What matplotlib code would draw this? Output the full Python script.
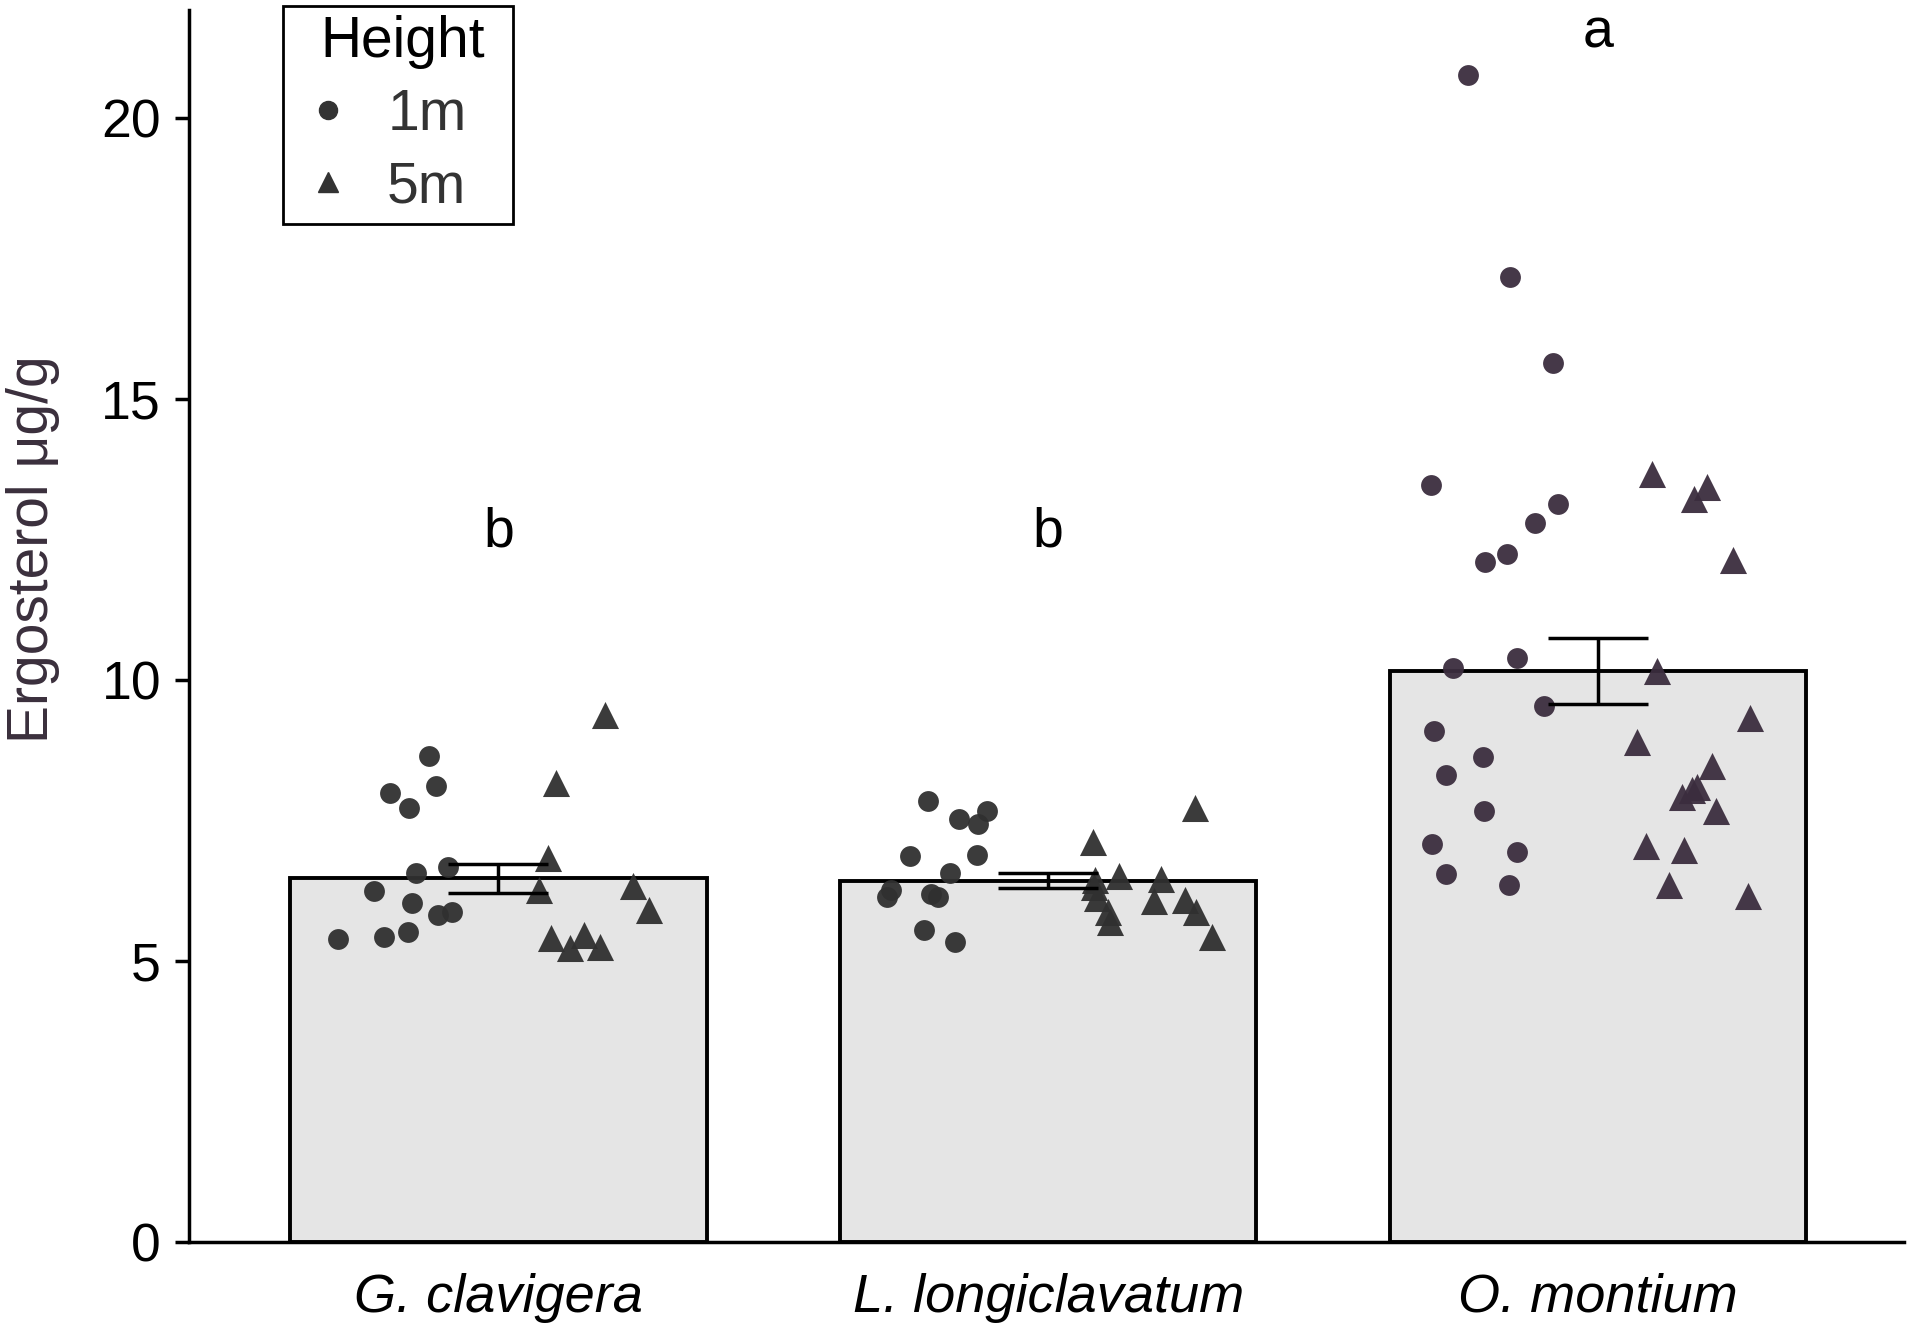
import matplotlib.pyplot as plt
from matplotlib.lines import Line2D
from matplotlib.patches import Rectangle

plt.rcParams['font.family'] = ['Liberation Sans', 'DejaVu Sans']

species = ['G. clavigera', 'L. longiclavatum', 'O. montium']
bar_means = [6.47, 6.43, 10.16]
bar_se = [0.255, 0.14, 0.58]
letters = ['b', 'b', 'a']
letter_y = [12.62, 12.62, 21.5]

# jittered points: (offset from category centre, value)
g1_1m_x = [-0.126, -0.198, -0.114, -0.163, -0.092, -0.149, -0.226, -0.158, -0.085, -0.109, -0.292, -0.209, -0.164]
g1_1m_y = [8.65, 7.98, 8.11, 7.72, 6.68, 6.56, 6.25, 6.03, 5.87, 5.82, 5.39, 5.43, 5.52]
g1_5m_x = [0.193, 0.104, 0.090, 0.074, 0.244, 0.273, 0.095, 0.155, 0.131, 0.184]
g1_5m_y = [9.38, 8.16, 6.83, 6.26, 6.33, 5.91, 5.40, 5.46, 5.23, 5.25]

g2_1m_x = [-0.218, -0.162, -0.111, -0.127, -0.251, -0.130, -0.179, -0.286, -0.293, -0.213, -0.200, -0.225, -0.170]
g2_1m_y = [7.85, 7.53, 7.67, 7.43, 6.87, 6.88, 6.57, 6.26, 6.14, 6.19, 6.13, 5.55, 5.33]
g2_5m_x = [0.267, 0.082, 0.128, 0.205, 0.085, 0.084, 0.088, 0.193, 0.249, 0.109, 0.269, 0.113, 0.298]
g2_5m_y = [7.72, 7.12, 6.52, 6.45, 6.44, 6.32, 6.12, 6.06, 6.09, 5.88, 5.88, 5.70, 5.43]

g3_1m_x = [-0.236, -0.160, -0.081, -0.303, -0.072, -0.114, -0.165, -0.205, -0.147, -0.263,
           -0.098, -0.298, -0.210, -0.276, -0.208, -0.301, -0.147, -0.276, -0.161]
g3_1m_y = [20.76, 17.17, 15.63, 13.46, 13.13, 12.79, 12.24, 12.10, 10.39, 10.21,
           9.53, 9.09, 8.62, 8.30, 7.66, 7.08, 6.93, 6.55, 6.36]
g3_5m_x = [0.098, 0.198, 0.175, 0.245, 0.108, 0.277, 0.071, 0.207, 0.180, 0.171,
           0.153, 0.215, 0.087, 0.156, 0.129, 0.273]
g3_5m_y = [13.67, 13.44, 13.21, 12.13, 10.16, 9.33, 8.90, 8.46, 8.09, 8.04,
           7.91, 7.66, 7.04, 6.97, 6.36, 6.15]

pts_1m = [(g1_1m_x, g1_1m_y), (g2_1m_x, g2_1m_y), (g3_1m_x, g3_1m_y)]
pts_5m = [(g1_5m_x, g1_5m_y), (g2_5m_x, g2_5m_y), (g3_5m_x, g3_5m_y)]
pt_colors = ['#303030', '#303030', '#3b2d3e']

fig = plt.figure(figsize=(19.08, 13.25), dpi=100)
ax = fig.add_axes([0.099, 0.0626, 0.899, 0.93])

pos = [1, 2, 3]
ax.bar(pos, bar_means, width=0.757, color='#e5e5e5', edgecolor='black', linewidth=2.8, zorder=1)

for i in range(3):
    xs, ys = pts_1m[i]
    ax.scatter([pos[i] + x for x in xs], ys, s=225, marker='o', color=pt_colors[i],
               alpha=0.95, linewidths=0, zorder=3)
    xs, ys = pts_5m[i]
    ax.scatter([pos[i] + x for x in xs], ys, s=380, marker='^', color=pt_colors[i],
               alpha=0.95, linewidths=0, zorder=3)

ax.errorbar(pos, bar_means, yerr=bar_se, fmt='none', ecolor='black', elinewidth=2.5,
            capsize=36, capthick=2.5, zorder=4)

for i in range(3):
    ax.text(pos[i], letter_y[i], letters[i], ha='center', va='center', fontsize=40)

ax.set_xlim(0.437, 3.557)
ax.set_ylim(0, 21.92)
ax.set_yticks([0, 5, 10, 15, 20])
ax.set_xticks(pos)
ax.set_xticklabels(species, fontstyle='italic')
ax.tick_params(axis='y', labelsize=38.5, length=10, width=2.5, pad=10)
ax.tick_params(axis='x', labelsize=39, length=0, pad=22)
for s in ['top', 'right']:
    ax.spines[s].set_visible(False)
for s in ['left', 'bottom']:
    ax.spines[s].set_linewidth(2.5)
ax.set_ylabel('Ergosterol μg/g', fontsize=41, color='#3a2f3c')
ax.yaxis.set_label_coords(-0.0752, 0.562)

# legend: content without frame, box drawn separately
handles = [
    Line2D([], [], marker='o', linestyle='none', color='#333333', markersize=13),
    Line2D([], [], marker='^', linestyle='none', color='#333333', markersize=15),
]
leg = ax.legend(handles, ['1m', '5m'], title='Height', loc='upper left',
                bbox_to_anchor=(0.0764, 0.996), borderaxespad=0, fontsize=41,
                title_fontsize=41, frameon=False, alignment='left',
                labelspacing=0.33, handlelength=0.3, handletextpad=0.88, borderpad=0)
for t in leg.get_texts():
    t.set_color('#333333')
ax.add_patch(Rectangle((0.0548, 0.8263), 0.1889 - 0.0548, 1.0032 - 0.8263,
                       transform=ax.transAxes, fill=False, edgecolor='black',
                       linewidth=2, clip_on=False, zorder=5))

fig.savefig('out.png', dpi=100)
